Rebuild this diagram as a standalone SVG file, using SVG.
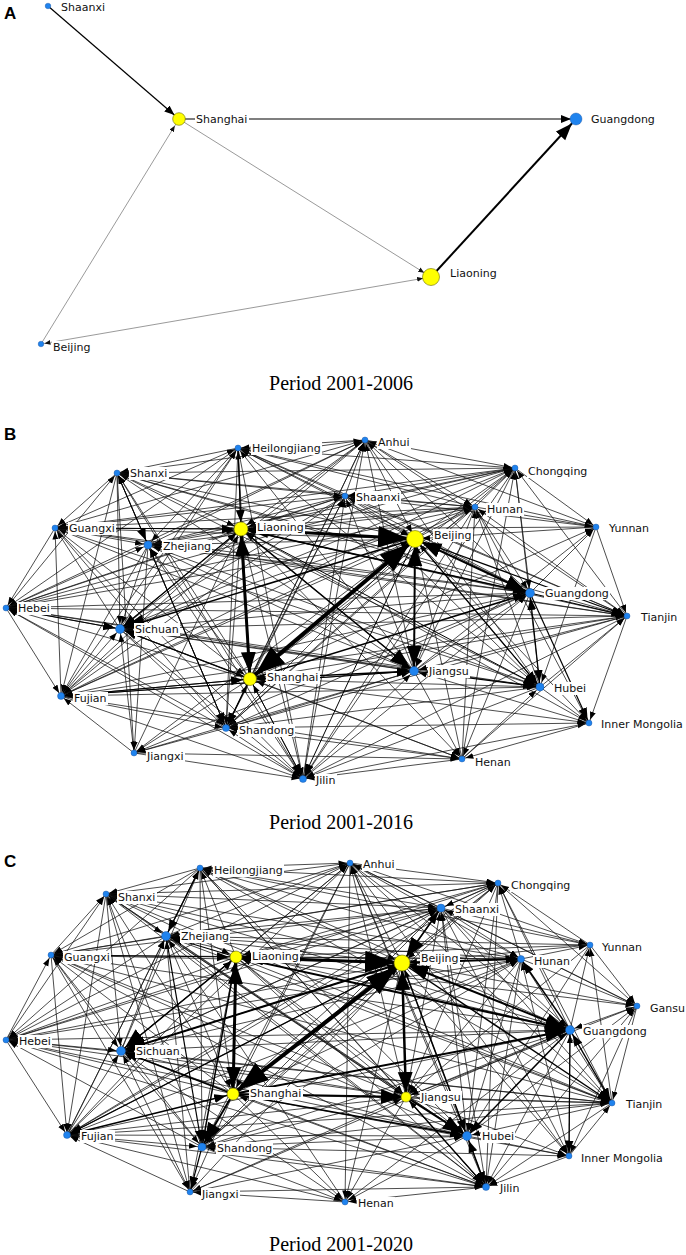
<svg xmlns="http://www.w3.org/2000/svg" width="686" height="1255" viewBox="0 0 686 1255">
<style>
.bg{fill:#fff}
.e path{fill:none;stroke:#111;stroke-width:.75}
.ea path{fill:none;stroke:#555;stroke-width:.6}
.ts{marker-end:url(#s3)}
.tm{marker-end:url(#s5)}
.tl{marker-end:url(#s8)}
.k path{fill:none;stroke:#000}
.w1{stroke-width:1}
.w12{stroke-width:1.2}
.w15{stroke-width:1.5}
.w2{stroke-width:2}
.w25{stroke-width:2.5}
.w3{stroke-width:3}
.w4{stroke-width:4}
.y{fill:#ffff00;stroke:#6b6b00;stroke-width:.6}
.b{fill:#1f83ee;stroke:#1a4f9a;stroke-width:.4}
.lb{fill:#fff}
.t{font-family:"DejaVu Sans",Verdana,sans-serif;font-size:11px;fill:#111}
.ttl{font-family:"Liberation Sans",Arial,sans-serif;font-weight:bold;font-size:17px;fill:#000}
.per{font-family:"Liberation Serif","Times New Roman",serif;font-size:20px;text-anchor:middle;fill:#000}
</style>
<defs>
<marker id="as3" markerUnits="userSpaceOnUse" markerWidth="30" markerHeight="20" orient="auto-start-reverse" refX="9.5" refY="2.5"><path d="M0,0L6,2.5L0,5z" fill="#111"/></marker>
<marker id="as8" markerUnits="userSpaceOnUse" markerWidth="30" markerHeight="20" orient="auto-start-reverse" refX="14" refY="2.5"><path d="M0,0L6,2.5L0,5z" fill="#111"/></marker>
<marker id="am8" markerUnits="userSpaceOnUse" markerWidth="30" markerHeight="20" orient="auto-start-reverse" refX="16" refY="4"><path d="M0,0L10,4L0,8z"/></marker>
<marker id="am5" markerUnits="userSpaceOnUse" markerWidth="30" markerHeight="20" orient="auto-start-reverse" refX="15" refY="4"><path d="M0,0L10,4L0,8z"/></marker>
<marker id="al5" markerUnits="userSpaceOnUse" markerWidth="30" markerHeight="20" orient="auto-start-reverse" refX="23" refY="6.5"><path d="M0,0L17,6.5L0,13z"/></marker>
<marker id="s3" markerUnits="userSpaceOnUse" markerWidth="30" markerHeight="20" orient="auto-start-reverse" refX="11.5" refY="3"><path d="M0,0L8,3L0,6z"/></marker>
<marker id="s5" markerUnits="userSpaceOnUse" markerWidth="30" markerHeight="20" orient="auto-start-reverse" refX="13" refY="3"><path d="M0,0L8,3L0,6z"/></marker>
<marker id="s8" markerUnits="userSpaceOnUse" markerWidth="30" markerHeight="20" orient="auto-start-reverse" refX="15" refY="3"><path d="M0,0L8,3L0,6z"/></marker>
<marker id="m3" markerUnits="userSpaceOnUse" markerWidth="30" markerHeight="20" orient="auto-start-reverse" refX="15.5" refY="4.5"><path d="M0,0L12,4.5L0,9z"/></marker>
<marker id="m5" markerUnits="userSpaceOnUse" markerWidth="30" markerHeight="20" orient="auto-start-reverse" refX="17" refY="4.5"><path d="M0,0L12,4.5L0,9z"/></marker>
<marker id="m8" markerUnits="userSpaceOnUse" markerWidth="30" markerHeight="20" orient="auto-start-reverse" refX="19" refY="4.5"><path d="M0,0L12,4.5L0,9z"/></marker>
<marker id="l5" markerUnits="userSpaceOnUse" markerWidth="40" markerHeight="30" orient="auto-start-reverse" refX="25" refY="7.5"><path d="M0,0L20,7.5L0,15z"/></marker>
<marker id="l8" markerUnits="userSpaceOnUse" markerWidth="40" markerHeight="30" orient="auto-start-reverse" refX="27" refY="7.5"><path d="M0,0L20,7.5L0,15z"/></marker>
<marker id="x8" markerUnits="userSpaceOnUse" markerWidth="40" markerHeight="30" orient="auto-start-reverse" refX="37" refY="11"><path d="M0,0L30,11L0,22z"/></marker>
</defs>
<rect class="bg" x="0" y="0" width="686" height="1255"/>

<!-- ===== Panel A ===== -->
<text class="ttl" x="4" y="19">A</text>
<g id="edges-a">
<g class="ea">
<path d="M179 119L431 277" marker-end="url(#as8)"/>
<path d="M41 344L179 119" marker-end="url(#as8)"/>
<path d="M41 344L431 277" marker-end="url(#as8)" marker-start="url(#as3)"/>
</g>
<g class="k">
<path class="w12" d="M48 6L179 119" marker-end="url(#am8)"/>
<path class="w12" d="M179 119L576 119" marker-end="url(#am5)"/>
<path class="w2" d="M431 277L576 119" marker-end="url(#al5)"/>
</g>
</g>
<g id="a-shaanxi"><circle class="b" cx="48" cy="6" r="2.8"/><rect class="lb" x="60" y="1" width="46" height="13"/><text class="t" x="61" y="11">Shaanxi</text></g>
<g id="a-shanghai"><circle class="y" cx="179" cy="119" r="6.3"/><rect class="lb" x="195" y="113" width="54" height="13"/><text class="t" x="196" y="123">Shanghai</text></g>
<g id="a-guangdong"><circle class="b" cx="576" cy="119" r="6"/><rect class="lb" x="590" y="113" width="66" height="13"/><text class="t" x="591" y="123">Guangdong</text></g>
<g id="a-liaoning"><circle class="y" cx="431" cy="277" r="8.5"/><rect class="lb" x="449" y="267" width="49" height="13"/><text class="t" x="450" y="277">Liaoning</text></g>
<g id="a-beijing"><circle class="b" cx="41" cy="344" r="2.8"/><rect class="lb" x="52" y="341" width="40" height="13"/><text class="t" x="53" y="351">Beijing</text></g>
<text class="per" x="341" y="390">Period 2001-2006</text>

<!-- ===== Panel B ===== -->
<text class="ttl" x="4" y="440">B</text>
<g id="edges-b">
<g class="e">
<g class="ts"><path d="M55 528L238 448"/><path d="M241 529L238 448"/><path d="M120 629L238 448"/><path d="M61 696L238 448"/><path d="M365 440L238 448"/><path d="M345 496L238 448"/><path d="M596 527L238 448"/><path d="M530 593L238 448"/><path d="M414 671L238 448"/></g>
<g class="ts"><path d="M238 448L117 473"/><path d="M148 545L117 473"/><path d="M6 608L117 473"/><path d="M250 679L117 473"/><path d="M226 728L117 473"/><path d="M303 779L117 473"/><path d="M515 468L117 473"/><path d="M475 507L117 473"/><path d="M415 539L117 473"/><path d="M627 616L117 473"/><path d="M540 687L117 473"/></g>
<g class="ts"><path d="M117 473L55 528"/><path d="M241 529L55 528"/><path d="M120 629L55 528"/><path d="M61 696L55 528"/><path d="M365 440L55 528"/><path d="M345 496L55 528"/><path d="M530 593L55 528"/><path d="M414 671L55 528"/></g>
<g class="tm"><path d="M238 448L148 545"/><path d="M55 528L148 545"/><path d="M6 608L148 545"/><path d="M250 679L148 545"/><path d="M226 728L148 545"/><path d="M303 779L148 545"/><path d="M515 468L148 545"/><path d="M475 507L148 545"/><path d="M415 539L148 545"/><path d="M627 616L148 545"/><path d="M540 687L148 545"/></g>
<g class="tl"><path d="M117 473L241 529"/><path d="M148 545L241 529"/><path d="M120 629L241 529"/><path d="M61 696L241 529"/><path d="M134 753L241 529"/><path d="M365 440L241 529"/><path d="M345 496L241 529"/><path d="M596 527L241 529"/><path d="M530 593L241 529"/><path d="M414 671L241 529"/><path d="M589 723L241 529"/></g>
<g class="ts"><path d="M238 448L6 608"/><path d="M55 528L6 608"/><path d="M241 529L6 608"/><path d="M250 679L6 608"/><path d="M226 728L6 608"/><path d="M303 779L6 608"/><path d="M515 468L6 608"/><path d="M475 507L6 608"/><path d="M415 539L6 608"/><path d="M627 616L6 608"/><path d="M540 687L6 608"/></g>
<g class="tm"><path d="M117 473L120 629"/><path d="M148 545L120 629"/><path d="M6 608L120 629"/><path d="M61 696L120 629"/><path d="M134 753L120 629"/><path d="M365 440L120 629"/><path d="M345 496L120 629"/><path d="M530 593L120 629"/><path d="M414 671L120 629"/></g>
<g class="tl"><path d="M238 448L250 679"/><path d="M55 528L250 679"/><path d="M120 629L250 679"/><path d="M226 728L250 679"/><path d="M303 779L250 679"/><path d="M515 468L250 679"/><path d="M475 507L250 679"/><path d="M627 616L250 679"/><path d="M540 687L250 679"/><path d="M462 759L250 679"/></g>
<g class="ts"><path d="M117 473L61 696"/><path d="M148 545L61 696"/><path d="M6 608L61 696"/><path d="M250 679L61 696"/><path d="M134 753L61 696"/><path d="M365 440L61 696"/><path d="M345 496L61 696"/><path d="M530 593L61 696"/><path d="M414 671L61 696"/></g>
<g class="ts"><path d="M238 448L226 728"/><path d="M55 528L226 728"/><path d="M241 529L226 728"/><path d="M120 629L226 728"/><path d="M61 696L226 728"/><path d="M303 779L226 728"/><path d="M515 468L226 728"/><path d="M475 507L226 728"/><path d="M415 539L226 728"/><path d="M627 616L226 728"/><path d="M540 687L226 728"/><path d="M462 759L226 728"/></g>
<g class="ts"><path d="M117 473L134 753"/><path d="M148 545L134 753"/><path d="M250 679L134 753"/><path d="M226 728L134 753"/><path d="M530 593L134 753"/><path d="M414 671L134 753"/></g>
<g class="ts"><path d="M238 448L303 779"/><path d="M55 528L303 779"/><path d="M241 529L303 779"/><path d="M120 629L303 779"/><path d="M61 696L303 779"/><path d="M134 753L303 779"/><path d="M515 468L303 779"/><path d="M475 507L303 779"/><path d="M627 616L303 779"/><path d="M540 687L303 779"/><path d="M462 759L303 779"/></g>
<g class="ts"><path d="M117 473L365 440"/><path d="M148 545L365 440"/><path d="M6 608L365 440"/><path d="M250 679L365 440"/><path d="M226 728L365 440"/><path d="M303 779L365 440"/><path d="M345 496L365 440"/><path d="M596 527L365 440"/><path d="M530 593L365 440"/><path d="M414 671L365 440"/></g>
<g class="ts"><path d="M238 448L515 468"/><path d="M55 528L515 468"/><path d="M241 529L515 468"/><path d="M120 629L515 468"/><path d="M61 696L515 468"/><path d="M365 440L515 468"/><path d="M475 507L515 468"/><path d="M415 539L515 468"/><path d="M627 616L515 468"/><path d="M540 687L515 468"/><path d="M462 759L515 468"/></g>
<g class="ts"><path d="M117 473L345 496"/><path d="M148 545L345 496"/><path d="M6 608L345 496"/><path d="M250 679L345 496"/><path d="M226 728L345 496"/><path d="M303 779L345 496"/><path d="M515 468L345 496"/><path d="M596 527L345 496"/><path d="M530 593L345 496"/><path d="M414 671L345 496"/></g>
<g class="ts"><path d="M238 448L475 507"/><path d="M55 528L475 507"/><path d="M241 529L475 507"/><path d="M120 629L475 507"/><path d="M61 696L475 507"/><path d="M365 440L475 507"/><path d="M345 496L475 507"/><path d="M415 539L475 507"/><path d="M627 616L475 507"/><path d="M540 687L475 507"/><path d="M462 759L475 507"/></g>
<g class="ts"><path d="M250 679L596 527"/><path d="M515 468L596 527"/><path d="M475 507L596 527"/><path d="M530 593L596 527"/><path d="M414 671L596 527"/></g>
<g class="tl"><path d="M238 448L415 539"/><path d="M55 528L415 539"/><path d="M61 696L415 539"/><path d="M134 753L415 539"/><path d="M365 440L415 539"/><path d="M345 496L415 539"/><path d="M596 527L415 539"/><path d="M540 687L415 539"/><path d="M462 759L415 539"/></g>
<g class="tm"><path d="M117 473L530 593"/><path d="M148 545L530 593"/><path d="M6 608L530 593"/><path d="M226 728L530 593"/><path d="M303 779L530 593"/><path d="M515 468L530 593"/><path d="M475 507L530 593"/><path d="M414 671L530 593"/></g>
<g class="ts"><path d="M238 448L627 616"/><path d="M55 528L627 616"/><path d="M241 529L627 616"/><path d="M120 629L627 616"/><path d="M61 696L627 616"/><path d="M365 440L627 616"/><path d="M345 496L627 616"/><path d="M596 527L627 616"/><path d="M540 687L627 616"/><path d="M462 759L627 616"/></g>
<g class="tm"><path d="M117 473L414 671"/><path d="M148 545L414 671"/><path d="M6 608L414 671"/><path d="M226 728L414 671"/><path d="M303 779L414 671"/><path d="M515 468L414 671"/><path d="M475 507L414 671"/><path d="M627 616L414 671"/><path d="M589 723L414 671"/></g>
<g class="tm"><path d="M238 448L540 687"/><path d="M55 528L540 687"/><path d="M120 629L540 687"/><path d="M61 696L540 687"/><path d="M365 440L540 687"/><path d="M345 496L540 687"/><path d="M596 527L540 687"/><path d="M462 759L540 687"/></g>
<g class="ts"><path d="M250 679L589 723"/><path d="M226 728L589 723"/><path d="M303 779L589 723"/><path d="M475 507L589 723"/><path d="M415 539L589 723"/><path d="M627 616L589 723"/><path d="M540 687L589 723"/></g>
<g class="ts"><path d="M241 529L462 759"/><path d="M120 629L462 759"/><path d="M61 696L462 759"/><path d="M134 753L462 759"/><path d="M530 593L462 759"/><path d="M414 671L462 759"/><path d="M589 723L462 759"/></g>
</g>
<g class="k">
<path class="w3" d="M241 529L415 539" marker-start="url(#l8)" marker-end="url(#x8)"/>
<path class="w4" d="M250 679L415 539" marker-start="url(#x8)" marker-end="url(#x8)"/>
<path class="w3" d="M241 529L250 679" marker-start="url(#l8)" marker-end="url(#l8)"/>
<path class="w2" d="M415 539L414 671" marker-start="url(#l8)" marker-end="url(#l5)"/>
<path class="w2" d="M415 539L530 593" marker-start="url(#l8)" marker-end="url(#l5)"/>
<path class="w15" d="M250 679L414 671" marker-end="url(#m5)"/>
<path class="w15" d="M241 529L414 671" marker-end="url(#l5)"/>
<path class="w15" d="M241 529L530 593" marker-end="url(#m5)"/>
<path class="w15" d="M250 679L530 593" marker-end="url(#m5)"/>
<path class="w12" d="M530 593L540 687" marker-start="url(#m5)" marker-end="url(#m5)"/>
<path class="w12" d="M530 593L589 723" marker-end="url(#m3)"/>
<path class="w12" d="M415 539L540 687" marker-end="url(#m5)"/>
<path class="w12" d="M414 671L540 687" marker-end="url(#m5)"/>
<path class="w12" d="M241 529L120 629" marker-end="url(#m5)"/>
<path class="w15" d="M415 539L120 629" marker-end="url(#l5)"/>
<path class="w12" d="M250 679L120 629" marker-end="url(#m5)"/>
<path class="w12" d="M238 448L241 529" marker-end="url(#m8)"/>
<path class="w12" d="M250 679L226 728" marker-end="url(#m3)"/>
<path class="w12" d="M61 696L250 679" marker-end="url(#m8)"/>
<path class="w12" d="M530 593L627 616" marker-end="url(#m3)"/>
<path class="w12" d="M415 539L627 616" marker-end="url(#m3)"/>
<path class="w1" d="M55 528L241 529" marker-end="url(#m8)"/>
<path class="w1" d="M6 608L120 629" marker-end="url(#m5)"/>
<path class="w1" d="M148 545L226 728" marker-end="url(#m3)"/>
<path class="w1" d="M415 539L303 779" marker-end="url(#m3)"/>
<path class="w1" d="M250 679L303 779" marker-end="url(#m3)"/>
<path class="w1" d="M117 473L148 545" marker-end="url(#m5)"/>
<path class="w1" d="M61 696L414 671" marker-end="url(#m5)"/>
<path class="w1" d="M241 529L540 687" marker-end="url(#m5)"/>
</g>
</g>
<g id="b-heilongjiang"><circle class="b" cx="238" cy="448" r="3"/><rect class="lb" x="251" y="442" width="71" height="13"/><text class="t" x="252" y="452">Heilongjiang</text></g>
<g id="b-shanxi"><circle class="b" cx="117" cy="473" r="3"/><rect class="lb" x="129" y="467" width="40" height="13"/><text class="t" x="130" y="477">Shanxi</text></g>
<g id="b-guangxi"><circle class="b" cx="55" cy="528" r="3"/><rect class="lb" x="68" y="522" width="48" height="13"/><text class="t" x="69" y="532">Guangxi</text></g>
<g id="b-zhejiang"><circle class="b" cx="148" cy="545" r="4"/><rect class="lb" x="162" y="540" width="50" height="13"/><text class="t" x="163" y="550">Zhejiang</text></g>
<g id="b-liaoning"><circle class="y" cx="241" cy="529" r="7"/><rect class="lb" x="256" y="521" width="49" height="13"/><text class="t" x="257" y="531">Liaoning</text></g>
<g id="b-hebei"><circle class="b" cx="6" cy="608" r="3"/><rect class="lb" x="17" y="602" width="34" height="13"/><text class="t" x="18" y="612">Hebei</text></g>
<g id="b-sichuan"><circle class="b" cx="120" cy="629" r="4.5"/><rect class="lb" x="134" y="623" width="46" height="13"/><text class="t" x="135" y="633">Sichuan</text></g>
<g id="b-shanghai"><circle class="y" cx="250" cy="679" r="6.5"/><rect class="lb" x="266" y="671" width="54" height="13"/><text class="t" x="267" y="681">Shanghai</text></g>
<g id="b-fujian"><circle class="b" cx="61" cy="696" r="3.5"/><rect class="lb" x="73" y="692" width="35" height="13"/><text class="t" x="74" y="702">Fujian</text></g>
<g id="b-shandong"><circle class="b" cx="226" cy="728" r="3.5"/><rect class="lb" x="238" y="724" width="57" height="13"/><text class="t" x="239" y="734">Shandong</text></g>
<g id="b-jiangxi"><circle class="b" cx="134" cy="753" r="3"/><rect class="lb" x="146" y="750" width="39" height="13"/><text class="t" x="147" y="760">Jiangxi</text></g>
<g id="b-jilin"><circle class="b" cx="303" cy="779" r="3.5"/><rect class="lb" x="315" y="774" width="22" height="13"/><text class="t" x="316" y="784">Jilin</text></g>
<g id="b-anhui"><circle class="b" cx="365" cy="440" r="3"/><rect class="lb" x="377" y="436" width="34" height="13"/><text class="t" x="378" y="446">Anhui</text></g>
<g id="b-chongqing"><circle class="b" cx="515" cy="468" r="3"/><rect class="lb" x="527" y="465" width="62" height="13"/><text class="t" x="528" y="475">Chongqing</text></g>
<g id="b-shaanxi"><circle class="b" cx="345" cy="496" r="3"/><rect class="lb" x="355" y="491" width="46" height="13"/><text class="t" x="356" y="501">Shaanxi</text></g>
<g id="b-hunan"><circle class="b" cx="475" cy="507" r="3"/><rect class="lb" x="486" y="503" width="38" height="13"/><text class="t" x="487" y="513">Hunan</text></g>
<g id="b-yunnan"><circle class="b" cx="596" cy="527" r="3"/><rect class="lb" x="608" y="522" width="44" height="13"/><text class="t" x="609" y="532">Yunnan</text></g>
<g id="b-beijing"><circle class="y" cx="415" cy="539" r="8.5"/><rect class="lb" x="433" y="529" width="40" height="13"/><text class="t" x="434" y="539">Beijing</text></g>
<g id="b-guangdong"><circle class="b" cx="530" cy="593" r="4.5"/><rect class="lb" x="544" y="587" width="66" height="13"/><text class="t" x="545" y="597">Guangdong</text></g>
<g id="b-tianjin"><circle class="b" cx="627" cy="616" r="3"/><rect class="lb" x="640" y="611" width="39" height="13"/><text class="t" x="641" y="621">Tianjin</text></g>
<g id="b-jiangsu"><circle class="b" cx="414" cy="671" r="4.5"/><rect class="lb" x="428" y="665" width="42" height="13"/><text class="t" x="429" y="675">Jiangsu</text></g>
<g id="b-hubei"><circle class="b" cx="540" cy="687" r="4"/><rect class="lb" x="553" y="682" width="34" height="13"/><text class="t" x="554" y="692">Hubei</text></g>
<g id="b-innermongolia"><circle class="b" cx="589" cy="723" r="3"/><rect class="lb" x="600" y="718" width="84" height="13"/><text class="t" x="601" y="728">Inner Mongolia</text></g>
<g id="b-henan"><circle class="b" cx="462" cy="759" r="3"/><rect class="lb" x="474" y="756" width="38" height="13"/><text class="t" x="475" y="766">Henan</text></g>
<text class="per" x="341" y="829">Period 2001-2016</text>

<!-- ===== Panel C ===== -->
<text class="ttl" x="4" y="867">C</text>
<g id="edges-c">
<g class="e">
<g class="ts"><path d="M166 936L200 868"/><path d="M236 957L200 868"/><path d="M121 1051L200 868"/><path d="M67 1135L200 868"/><path d="M498 883L200 868"/><path d="M590 945L200 868"/><path d="M521 959L200 868"/><path d="M570 1030L200 868"/><path d="M612 1103L200 868"/></g>
<g class="ts"><path d="M200 868L106 894"/><path d="M51 955L106 894"/><path d="M6 1040L106 894"/><path d="M233 1094L106 894"/><path d="M202 1147L106 894"/><path d="M350 863L106 894"/><path d="M441 908L106 894"/><path d="M402 963L106 894"/><path d="M406 1097L106 894"/><path d="M467 1136L106 894"/><path d="M486 1187L106 894"/></g>
<g class="tm"><path d="M106 894L166 936"/><path d="M121 1051L166 936"/><path d="M67 1135L166 936"/><path d="M190 1192L166 936"/><path d="M498 883L166 936"/><path d="M590 945L166 936"/><path d="M521 959L166 936"/><path d="M570 1030L166 936"/><path d="M612 1103L166 936"/><path d="M345 1202L166 936"/></g>
<g class="ts"><path d="M200 868L51 955"/><path d="M166 936L51 955"/><path d="M6 1040L51 955"/><path d="M233 1094L51 955"/><path d="M202 1147L51 955"/><path d="M350 863L51 955"/><path d="M441 908L51 955"/><path d="M402 963L51 955"/><path d="M406 1097L51 955"/><path d="M467 1136L51 955"/><path d="M486 1187L51 955"/></g>
<g class="tl"><path d="M106 894L236 957"/><path d="M121 1051L236 957"/><path d="M67 1135L236 957"/><path d="M190 1192L236 957"/><path d="M498 883L236 957"/><path d="M590 945L236 957"/><path d="M521 959L236 957"/><path d="M612 1103L236 957"/></g>
<g class="ts"><path d="M200 868L6 1040"/><path d="M166 936L6 1040"/><path d="M236 957L6 1040"/><path d="M233 1094L6 1040"/><path d="M202 1147L6 1040"/><path d="M350 863L6 1040"/><path d="M441 908L6 1040"/><path d="M402 963L6 1040"/><path d="M406 1097L6 1040"/><path d="M467 1136L6 1040"/><path d="M486 1187L6 1040"/></g>
<g class="tm"><path d="M106 894L121 1051"/><path d="M51 955L121 1051"/><path d="M6 1040L121 1051"/><path d="M67 1135L121 1051"/><path d="M190 1192L121 1051"/><path d="M498 883L121 1051"/><path d="M521 959L121 1051"/><path d="M570 1030L121 1051"/><path d="M612 1103L121 1051"/><path d="M345 1202L121 1051"/></g>
<g class="tl"><path d="M200 868L233 1094"/><path d="M166 936L233 1094"/><path d="M350 863L233 1094"/><path d="M441 908L233 1094"/><path d="M486 1187L233 1094"/></g>
<g class="ts"><path d="M106 894L67 1135"/><path d="M51 955L67 1135"/><path d="M6 1040L67 1135"/><path d="M190 1192L67 1135"/><path d="M498 883L67 1135"/><path d="M521 959L67 1135"/><path d="M570 1030L67 1135"/><path d="M612 1103L67 1135"/><path d="M345 1202L67 1135"/></g>
<g class="tm"><path d="M200 868L202 1147"/><path d="M121 1051L202 1147"/><path d="M67 1135L202 1147"/><path d="M350 863L202 1147"/><path d="M441 908L202 1147"/><path d="M402 963L202 1147"/><path d="M406 1097L202 1147"/><path d="M467 1136L202 1147"/><path d="M486 1187L202 1147"/></g>
<g class="ts"><path d="M106 894L190 1192"/><path d="M51 955L190 1192"/><path d="M233 1094L190 1192"/><path d="M570 1030L190 1192"/><path d="M345 1202L190 1192"/></g>
<g class="ts"><path d="M200 868L350 863"/><path d="M166 936L350 863"/><path d="M236 957L350 863"/><path d="M121 1051L350 863"/><path d="M67 1135L350 863"/><path d="M441 908L350 863"/><path d="M402 963L350 863"/><path d="M637 1006L350 863"/><path d="M406 1097L350 863"/><path d="M467 1136L350 863"/><path d="M486 1187L350 863"/></g>
<g class="ts"><path d="M106 894L498 883"/><path d="M51 955L498 883"/><path d="M6 1040L498 883"/><path d="M233 1094L498 883"/><path d="M202 1147L498 883"/><path d="M350 863L498 883"/><path d="M590 945L498 883"/><path d="M521 959L498 883"/><path d="M570 1030L498 883"/><path d="M612 1103L498 883"/></g>
<g class="tm"><path d="M200 868L441 908"/><path d="M166 936L441 908"/><path d="M236 957L441 908"/><path d="M121 1051L441 908"/><path d="M67 1135L441 908"/><path d="M498 883L441 908"/><path d="M637 1006L441 908"/><path d="M406 1097L441 908"/><path d="M467 1136L441 908"/><path d="M486 1187L441 908"/></g>
<g class="ts"><path d="M350 863L590 945"/><path d="M441 908L590 945"/><path d="M521 959L590 945"/><path d="M570 1030L590 945"/><path d="M612 1103L590 945"/></g>
<g class="tl"><path d="M200 868L402 963"/><path d="M166 936L402 963"/><path d="M121 1051L402 963"/><path d="M67 1135L402 963"/><path d="M190 1192L402 963"/><path d="M498 883L402 963"/><path d="M590 945L402 963"/><path d="M637 1006L402 963"/><path d="M486 1187L402 963"/></g>
<g class="ts"><path d="M106 894L521 959"/><path d="M51 955L521 959"/><path d="M6 1040L521 959"/><path d="M233 1094L521 959"/><path d="M202 1147L521 959"/><path d="M350 863L521 959"/><path d="M441 908L521 959"/><path d="M612 1103L521 959"/><path d="M569 1156L521 959"/></g>
<g class="ts"><path d="M236 957L637 1006"/><path d="M498 883L637 1006"/><path d="M590 945L637 1006"/><path d="M521 959L637 1006"/><path d="M406 1097L637 1006"/><path d="M467 1136L637 1006"/><path d="M486 1187L637 1006"/></g>
<g class="tm"><path d="M106 894L570 1030"/><path d="M51 955L570 1030"/><path d="M6 1040L570 1030"/><path d="M202 1147L570 1030"/><path d="M350 863L570 1030"/><path d="M441 908L570 1030"/><path d="M637 1006L570 1030"/><path d="M569 1156L570 1030"/><path d="M345 1202L570 1030"/></g>
<g class="tm"><path d="M200 868L406 1097"/><path d="M166 936L406 1097"/><path d="M236 957L406 1097"/><path d="M121 1051L406 1097"/><path d="M67 1135L406 1097"/><path d="M190 1192L406 1097"/><path d="M498 883L406 1097"/><path d="M590 945L406 1097"/><path d="M521 959L406 1097"/><path d="M570 1030L406 1097"/><path d="M486 1187L406 1097"/></g>
<g class="ts"><path d="M106 894L612 1103"/><path d="M51 955L612 1103"/><path d="M6 1040L612 1103"/><path d="M233 1094L612 1103"/><path d="M202 1147L612 1103"/><path d="M350 863L612 1103"/><path d="M441 908L612 1103"/><path d="M637 1006L612 1103"/><path d="M406 1097L612 1103"/><path d="M569 1156L612 1103"/></g>
<g class="tm"><path d="M200 868L467 1136"/><path d="M166 936L467 1136"/><path d="M236 957L467 1136"/><path d="M121 1051L467 1136"/><path d="M67 1135L467 1136"/><path d="M190 1192L467 1136"/><path d="M498 883L467 1136"/><path d="M590 945L467 1136"/><path d="M521 959L467 1136"/><path d="M612 1103L467 1136"/></g>
<g class="ts"><path d="M233 1094L569 1156"/><path d="M202 1147L569 1156"/><path d="M350 863L569 1156"/><path d="M441 908L569 1156"/><path d="M402 963L569 1156"/><path d="M637 1006L569 1156"/><path d="M406 1097L569 1156"/><path d="M467 1136L569 1156"/></g>
<g class="ts"><path d="M200 868L486 1187"/><path d="M166 936L486 1187"/><path d="M236 957L486 1187"/><path d="M121 1051L486 1187"/><path d="M67 1135L486 1187"/><path d="M190 1192L486 1187"/><path d="M498 883L486 1187"/><path d="M521 959L486 1187"/><path d="M570 1030L486 1187"/><path d="M612 1103L486 1187"/><path d="M569 1156L486 1187"/></g>
<g class="ts"><path d="M233 1094L345 1202"/><path d="M202 1147L345 1202"/><path d="M350 863L345 1202"/><path d="M402 963L345 1202"/><path d="M406 1097L345 1202"/><path d="M467 1136L345 1202"/><path d="M486 1187L345 1202"/></g>
</g>
<g class="k">
<path class="w3" d="M236 957L402 963" marker-start="url(#l8)" marker-end="url(#x8)"/>
<path class="w4" d="M233 1094L402 963" marker-start="url(#x8)" marker-end="url(#x8)"/>
<path class="w3" d="M236 957L233 1094" marker-start="url(#l8)" marker-end="url(#l8)"/>
<path class="w25" d="M402 963L406 1097" marker-start="url(#l8)" marker-end="url(#l5)"/>
<path class="w2" d="M570 1030L402 963" marker-start="url(#l5)" marker-end="url(#l8)"/>
<path class="w2" d="M402 963L521 959" marker-end="url(#m3)"/>
<path class="w2" d="M233 1094L406 1097" marker-end="url(#l5)"/>
<path class="w2" d="M406 1097L467 1136" marker-end="url(#l5)"/>
<path class="w15" d="M467 1136L486 1187" marker-start="url(#m5)" marker-end="url(#m3)"/>
<path class="w12" d="M570 1030L569 1156" marker-end="url(#m3)"/>
<path class="w15" d="M570 1030L612 1103" marker-start="url(#m5)" marker-end="url(#m3)"/>
<path class="w15" d="M570 1030L521 959" marker-end="url(#m3)"/>
<path class="w15" d="M402 963L612 1103" marker-end="url(#m3)"/>
<path class="w15" d="M441 908L402 963" marker-end="url(#l8)"/>
<path class="w2" d="M402 963L121 1051" marker-end="url(#l5)"/>
<path class="w15" d="M236 957L121 1051" marker-end="url(#l5)"/>
<path class="w15" d="M233 1094L121 1051" marker-end="url(#m5)"/>
<path class="w2" d="M233 1094L202 1147" marker-end="url(#l5)"/>
<path class="w15" d="M236 957L202 1147" marker-end="url(#m5)"/>
<path class="w12" d="M166 936L202 1147" marker-end="url(#m5)"/>
<path class="w15" d="M67 1135L233 1094" marker-end="url(#m8)"/>
<path class="w12" d="M402 963L67 1135" marker-end="url(#m3)"/>
<path class="w2" d="M233 1094L570 1030" marker-end="url(#l5)"/>
<path class="w2" d="M236 957L570 1030" marker-end="url(#l5)"/>
<path class="w12" d="M51 955L236 957" marker-end="url(#m8)"/>
<path class="w12" d="M200 868L166 936" marker-end="url(#m5)"/>
<path class="w12" d="M236 957L166 936" marker-end="url(#m5)"/>
<path class="w15" d="M233 1094L467 1136" marker-end="url(#m5)"/>
<path class="w15" d="M402 963L467 1136" marker-end="url(#m5)"/>
<path class="w12" d="M406 1097L486 1187" marker-end="url(#m3)"/>
<path class="w12" d="M202 1147L190 1192" marker-end="url(#m3)"/>
<path class="w15" d="M570 1030L467 1136" marker-end="url(#m5)"/>
<path class="w12" d="M402 963L441 908" marker-end="url(#m5)"/>
</g>
</g>
<g id="c-heilongjiang"><circle class="b" cx="200" cy="868" r="3"/><rect class="lb" x="213" y="864" width="71" height="13"/><text class="t" x="214" y="874">Heilongjiang</text></g>
<g id="c-shanxi"><circle class="b" cx="106" cy="894" r="3"/><rect class="lb" x="117" y="891" width="40" height="13"/><text class="t" x="118" y="901">Shanxi</text></g>
<g id="c-zhejiang"><circle class="b" cx="166" cy="936" r="4.5"/><rect class="lb" x="180" y="930" width="50" height="13"/><text class="t" x="181" y="940">Zhejiang</text></g>
<g id="c-guangxi"><circle class="b" cx="51" cy="955" r="3"/><rect class="lb" x="63" y="951" width="48" height="13"/><text class="t" x="64" y="961">Guangxi</text></g>
<g id="c-liaoning"><circle class="y" cx="236" cy="957" r="6"/><rect class="lb" x="251" y="950" width="49" height="13"/><text class="t" x="252" y="960">Liaoning</text></g>
<g id="c-hebei"><circle class="b" cx="6" cy="1040" r="3"/><rect class="lb" x="18" y="1035" width="34" height="13"/><text class="t" x="19" y="1045">Hebei</text></g>
<g id="c-sichuan"><circle class="b" cx="121" cy="1051" r="4.5"/><rect class="lb" x="135" y="1045" width="46" height="13"/><text class="t" x="136" y="1055">Sichuan</text></g>
<g id="c-shanghai"><circle class="y" cx="233" cy="1094" r="6"/><rect class="lb" x="249" y="1087" width="54" height="13"/><text class="t" x="250" y="1097">Shanghai</text></g>
<g id="c-fujian"><circle class="b" cx="67" cy="1135" r="3.5"/><rect class="lb" x="80" y="1130" width="35" height="13"/><text class="t" x="81" y="1140">Fujian</text></g>
<g id="c-shandong"><circle class="b" cx="202" cy="1147" r="4"/><rect class="lb" x="216" y="1142" width="57" height="13"/><text class="t" x="217" y="1152">Shandong</text></g>
<g id="c-jiangxi"><circle class="b" cx="190" cy="1192" r="3"/><rect class="lb" x="201" y="1188" width="39" height="13"/><text class="t" x="202" y="1198">Jiangxi</text></g>
<g id="c-anhui"><circle class="b" cx="350" cy="863" r="3"/><rect class="lb" x="362" y="858" width="34" height="13"/><text class="t" x="363" y="868">Anhui</text></g>
<g id="c-chongqing"><circle class="b" cx="498" cy="883" r="3"/><rect class="lb" x="510" y="879" width="62" height="13"/><text class="t" x="511" y="889">Chongqing</text></g>
<g id="c-shaanxi"><circle class="b" cx="441" cy="908" r="4"/><rect class="lb" x="454" y="903" width="46" height="13"/><text class="t" x="455" y="913">Shaanxi</text></g>
<g id="c-yunnan"><circle class="b" cx="590" cy="945" r="3"/><rect class="lb" x="601" y="941" width="44" height="13"/><text class="t" x="602" y="951">Yunnan</text></g>
<g id="c-beijing"><circle class="y" cx="402" cy="963" r="8"/><rect class="lb" x="420" y="952" width="40" height="13"/><text class="t" x="421" y="962">Beijing</text></g>
<g id="c-hunan"><circle class="b" cx="521" cy="959" r="3.5"/><rect class="lb" x="533" y="955" width="38" height="13"/><text class="t" x="534" y="965">Hunan</text></g>
<g id="c-gansu"><circle class="b" cx="637" cy="1006" r="3"/><rect class="lb" x="649" y="1002" width="37" height="13"/><text class="t" x="650" y="1012">Gansu</text></g>
<g id="c-guangdong"><circle class="b" cx="570" cy="1030" r="4.5"/><rect class="lb" x="582" y="1025" width="66" height="13"/><text class="t" x="583" y="1035">Guangdong</text></g>
<g id="c-jiangsu"><circle class="y" cx="406" cy="1097" r="5"/><rect class="lb" x="420" y="1091" width="42" height="13"/><text class="t" x="421" y="1101">Jiangsu</text></g>
<g id="c-tianjin"><circle class="b" cx="612" cy="1103" r="3"/><rect class="lb" x="625" y="1098" width="39" height="13"/><text class="t" x="626" y="1108">Tianjin</text></g>
<g id="c-hubei"><circle class="b" cx="467" cy="1136" r="4.5"/><rect class="lb" x="481" y="1130" width="34" height="13"/><text class="t" x="482" y="1140">Hubei</text></g>
<g id="c-innermongolia"><circle class="b" cx="569" cy="1156" r="3"/><rect class="lb" x="580" y="1152" width="84" height="13"/><text class="t" x="581" y="1162">Inner Mongolia</text></g>
<g id="c-jilin"><circle class="b" cx="486" cy="1187" r="3.5"/><rect class="lb" x="499" y="1182" width="22" height="13"/><text class="t" x="500" y="1192">Jilin</text></g>
<g id="c-henan"><circle class="b" cx="345" cy="1202" r="3"/><rect class="lb" x="357" y="1197" width="38" height="13"/><text class="t" x="358" y="1207">Henan</text></g>
<text class="per" x="341" y="1251">Period 2001-2020</text>
</svg>
